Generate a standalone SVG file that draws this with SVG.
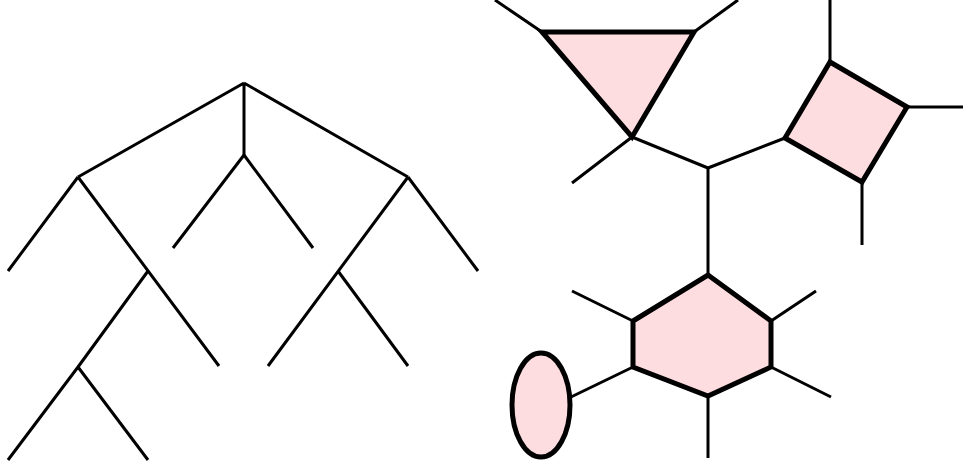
<svg xmlns="http://www.w3.org/2000/svg" width="963" height="468" viewBox="0 0 963 468">
<style>
.e{stroke:#000;stroke-width:3;fill:none;stroke-linecap:butt}
.n{fill:#fddde0;stroke:#000;stroke-width:5;stroke-linejoin:miter}
</style>
<rect width="963" height="468" fill="#fff"/>
<g id="connectors" class="e">
<path d="M244,83 L78,177 M244,83 L244,155 M244,83 L408,177"/>
<path d="M244,155 L173,248 M244,155 L313,248"/>
<path d="M78,177 L8,271 M78,177 L219,366"/>
<path d="M148,271 L78,367 M78,367 L8,460 M78,367 L148,460"/>
<path d="M408,177 L268,366 M408,177 L478,271 M338,271 L408,366"/>
<path d="M542,32 L495,0 M694,32 L738,0 M632,137 L572,183 M632,137 L708,168"/>
<path d="M708,168 L785,138 M708,168 L708,275"/>
<path d="M830,62 L830,0 M907,107 L963,107 M862,182 L862,245"/>
<path d="M771,321 L816,291 M771,367 L831,397 M708,396 L708,458 M633,321 L572,291 M633,367 L571,397"/>
</g>
<g id="triangle"><polygon class="n" points="542,32 694,32 632,137"/></g>
<g id="square"><polygon class="n" points="785,138 830,62 907,107 862,182"/></g>
<g id="hexagon"><polygon class="n" points="708,275 771,321 771,367 708,396 633,367 633,321"/></g>
<g id="ellipse"><ellipse class="n" cx="541" cy="405" rx="29" ry="52"/></g>
</svg>
